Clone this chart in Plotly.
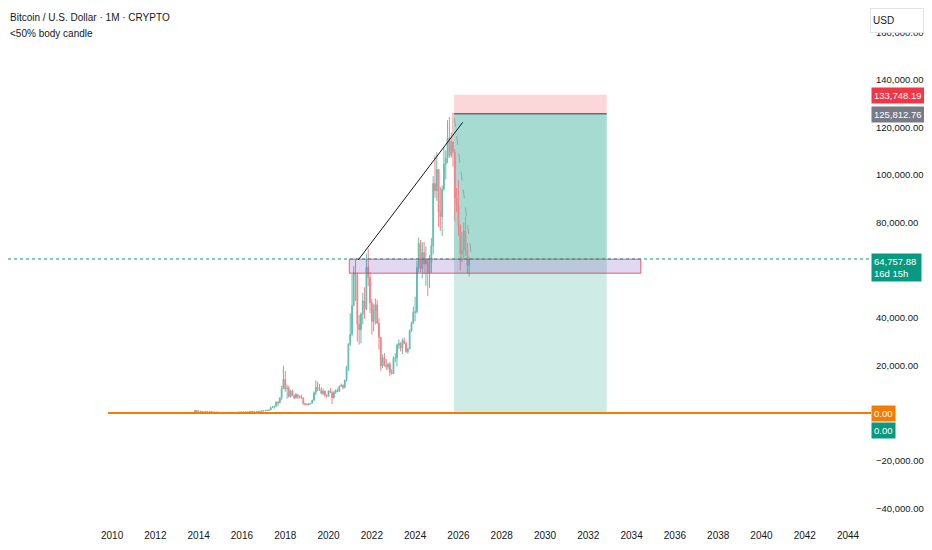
import pandas as pd
import plotly.graph_objects as go

FONT = "Liberation Sans, Arial, sans-serif"
TEXT = "#131722"

# monthly BTCUSD candles, first one is Jul 2010
first_month = "2010-07-01"

opens = [
    0.05, 0.07, 0.06, 0.06, 0.19, 0.21,  # 2010
    0.30, 0.52, 0.86, 0.78, 3.5, 8.7, 16.1, 13.4, 8.2, 5.1, 3.2, 3.0,  # 2011
    4.7, 5.5, 4.9, 4.9, 5.0, 5.2, 6.7, 9.3, 10.2, 12.4, 11.2, 12.6,  # 2012
    13.5, 20.4, 33.4, 93, 139, 129, 97, 106, 135, 133, 204, 1129,  # 2013
    732, 829, 573, 457, 448, 628, 640, 589, 481, 386, 338, 378,  # 2014
    320, 217, 254, 244, 236, 230, 263, 284, 230, 236, 314, 377,  # 2015
    430, 369, 437, 416, 448, 531, 673, 624, 575, 609, 701, 745,  # 2016
    964, 970, 1190, 1080, 1348, 2286, 2480, 2875, 4703, 4338, 6468, 10233,  # 2017
    14156, 10221, 10397, 6973, 9240, 7494, 6404, 7780, 7037, 6625, 6318, 4017,  # 2018
    3742, 3457, 3854, 4105, 5350, 8574, 10817, 10085, 9631, 8294, 9199, 7569,  # 2019
    7193, 9350, 8599, 6438, 8658, 9461, 9137, 11323, 11681, 10784, 13781, 19431,  # 2020
    28990, 33114, 45137, 58918, 57750, 37332, 35040, 41626, 47166, 43791, 61318, 57005,  # 2021
    46306, 38483, 43194, 45538, 37714, 31792, 19785, 23336, 20050, 19432, 20495, 17168,  # 2022
    16548, 23139, 23147, 28478, 29268, 27219, 30477, 29230, 25932, 26968, 34668, 37713,  # 2023
    42265, 42582, 61198, 71333, 60637, 67491, 62678, 64619, 58970, 63329, 70215, 96449,  # 2024
    93429, 102405, 84373, 82549, 94207, 104638, 107135, 115758, 108236, 114056, 109556, 90400,  # 2025
    87500, 78600, 67000, 68300, 76500, 69000, 62000,  # 2026
]
highs = [
    0.09, 0.07, 0.07, 0.20, 0.50, 0.30,
    0.52, 1.1, 0.95, 3.9, 9.0, 31.9, 16.6, 13.9, 8.6, 5.3, 3.3, 4.8,
    7.4, 6.3, 5.5, 5.3, 5.2, 6.8, 9.6, 16.0, 12.9, 12.5, 12.9, 13.8,
    20.5, 33.5, 95, 266, 139, 130, 111, 135, 145, 212, 1242, 1156,
    1022, 864, 720, 541, 629, 680, 655, 604, 491, 416, 456, 384,
    320, 266, 300, 261, 247, 268, 300, 286, 244, 336, 496, 466,
    460, 448, 439, 466, 548, 778, 680, 626, 612, 714, 753, 975,
    1150, 1200, 1290, 1350, 2763, 2980, 2916, 4736, 4975, 6470, 11430, 19870,
    17712, 11958, 11554, 9745, 9964, 7754, 8468, 7770, 7388, 7680, 6552, 4309,
    4110, 4210, 4296, 5642, 9074, 13796, 13183, 12273, 10898, 10370, 9505, 7744,
    9578, 10500, 9188, 9440, 10067, 10380, 11434, 12468, 12067, 14093, 19890, 29300,
    41950, 58350, 61780, 64900, 59000, 41300, 42300, 50500, 52900, 67000, 69000, 59100,
    47900, 45800, 48200, 47450, 39900, 31900, 24700, 25200, 22800, 21100, 21450, 18400,
    23950, 25250, 29200, 30950, 29800, 31400, 31800, 30000, 27450, 35200, 38400, 44700,
    48900, 64000, 73750, 72700, 71900, 71950, 70000, 65100, 66450, 73600, 99600, 108300,
    109600, 102500, 95000, 95700, 111900, 110500, 123100, 124400, 117900, 126200, 111000, 94600,
    97900, 79500, 76000, 80000, 82600, 71500, 65700,
]
lows = [
    0.05, 0.06, 0.06, 0.06, 0.19, 0.20,
    0.29, 0.52, 0.70, 0.78, 3.0, 8.7, 12.0, 6.7, 4.8, 2.0, 2.0, 2.8,
    4.7, 4.3, 4.7, 4.7, 4.9, 5.2, 6.6, 7.1, 10.1, 10.1, 10.8, 12.4,
    13.2, 19.5, 33.2, 50, 97, 88, 65, 102, 118, 104, 204, 455,
    732, 411, 449, 340, 417, 523, 572, 384, 373, 280, 318, 306,
    152, 209, 237, 214, 228, 221, 253, 199, 225, 236, 305, 350,
    351, 366, 402, 414, 443, 531, 480, 540, 593, 609, 690, 742,
    752, 920, 891, 1090, 1348, 2179, 1843, 2720, 2951, 4165, 5507, 10900,
    9036, 6048, 6533, 6526, 7058, 5826, 6124, 5880, 6111, 6180, 3474, 3128,
    3401, 3400, 3734, 4096, 5332, 7564, 9164, 9421, 7830, 7446, 6617, 6435,
    6871, 8492, 3850, 6202, 8118, 8975, 8977, 10994, 9882, 10374, 13244, 17600,
    28130, 32300, 44950, 47100, 30000, 28800, 29300, 37300, 39600, 43300, 53300, 42000,
    33000, 34300, 37200, 37600, 26700, 17600, 18800, 19600, 18150, 18200, 15500, 16300,
    16500, 21400, 19600, 26950, 25900, 24800, 28900, 25300, 24900, 26950, 34100, 37600,
    38550, 41900, 59100, 59200, 56550, 58400, 53500, 49100, 52600, 58900, 66800, 90500,
    89200, 78200, 76600, 74400, 93400, 98200, 105100, 107300, 107300, 103500, 80600, 84400,
    74500, 60000, 63500, 65000, 66000, 58500, 57300,
]
closes = [
    0.07, 0.06, 0.06, 0.19, 0.21, 0.30,
    0.52, 0.86, 0.78, 3.5, 8.7, 16.1, 13.4, 8.2, 5.1, 3.2, 3.0, 4.7,
    5.5, 4.9, 4.9, 5.0, 5.2, 6.7, 9.3, 10.2, 12.4, 11.2, 12.6, 13.5,
    20.4, 33.4, 93, 139, 129, 97, 106, 135, 133, 204, 1129, 732,
    829, 573, 457, 448, 628, 640, 589, 481, 386, 338, 378, 320,
    217, 254, 244, 236, 230, 263, 284, 230, 236, 314, 377, 430,
    369, 437, 416, 448, 531, 673, 624, 575, 609, 701, 745, 964,
    970, 1190, 1080, 1348, 2286, 2480, 2875, 4703, 4338, 6468, 10233, 14156,
    10221, 10397, 6973, 9240, 7494, 6404, 7780, 7037, 6625, 6318, 4017, 3742,
    3457, 3854, 4105, 5350, 8574, 10817, 10085, 9631, 8294, 9199, 7569, 7193,
    9350, 8599, 6438, 8658, 9461, 9137, 11323, 11681, 10784, 13781, 19431, 28990,
    33114, 45137, 58918, 57750, 37332, 35040, 41626, 47166, 43791, 61318, 57005, 46306,
    38483, 43194, 45538, 37714, 31792, 19785, 23336, 20050, 19432, 20495, 17168, 16548,
    23139, 23147, 28478, 29268, 27219, 30477, 29230, 25932, 26968, 34668, 37713, 42265,
    42582, 61198, 71333, 60637, 67491, 62678, 64619, 58970, 63329, 70215, 96449, 93429,
    102405, 84373, 82549, 94207, 104638, 107135, 115758, 108236, 114056, 109556, 90400, 87500,
    78600, 67000, 68300, 76500, 69000, 62000, 64757.88,
]

# drawings
last_price = 64757.88
entry_price = 125812.76
stop_price = 133748.19
target_price = 0.0
position_start, position_end = "2025-10-19", "2032-11-07"
zone_top, zone_bottom = 64700, 58800
zone_start, zone_end = "2020-12-17", "2034-06-05"
trend_x = ["2021-05-18", "2026-03-14"]
trend_y = [64400, 122200]
fade_x = ["2025-10-25", "2026-08-10"]
fade_y = [124000, 65700]
support_start = "2009-10-26"

year_ticks = list(range(2010, 2045, 2))
price_ticks = list(range(-40000, 160001, 20000))

dates = pd.date_range(first_month, periods=len(closes), freq="MS")

fig = go.Figure()

fig.add_trace(go.Candlestick(
    x=dates, open=opens, high=highs, low=lows, close=closes,
    increasing=dict(line=dict(color="#62bfae", width=1), fillcolor="#62bfae"),
    decreasing=dict(line=dict(color="#f2808a", width=1), fillcolor="#f2808a"),
    showlegend=False, hoverinfo="skip",
))

shapes = [
    # short position tool
    dict(type="rect", x0=position_start, x1=position_end, y0=entry_price, y1=stop_price,
         fillcolor="rgba(242,54,69,0.2)", line_width=0, layer="below"),
    dict(type="rect", x0=position_start, x1=position_end, y0=target_price, y1=entry_price,
         fillcolor="rgba(8,153,129,0.2)", line_width=0, layer="below"),
    dict(type="rect", x0=position_start, x1=position_end, y0=last_price, y1=entry_price,
         fillcolor="rgba(8,153,129,0.2)", line_width=0, layer="below"),
    dict(type="line", x0=position_start, x1=position_end, y0=entry_price, y1=entry_price,
         line=dict(color="#6a6d78", width=1.5)),
    # zone box
    dict(type="rect", x0=zone_start, x1=zone_end, y0=zone_bottom, y1=zone_top,
         fillcolor="rgba(103,58,183,0.2)", line=dict(color="rgba(242,54,69,0.8)", width=1)),
    # last price line
    dict(type="line", xref="paper", x0=0, x1=1, y0=last_price, y1=last_price,
         line=dict(color="#089981", width=1, dash="dot")),
    # horizontal line at 0
    dict(type="line", xref="x", x0=support_start, x1="2045-01-22", y0=0, y1=0,
         line=dict(color="#f57c00", width=2)),
    # trend line and fade line
    dict(type="line", x0=trend_x[0], x1=trend_x[1], y0=trend_y[0], y1=trend_y[1],
         line=dict(color=TEXT, width=1)),
    dict(type="line", x0=fade_x[0], x1=fade_x[1], y0=fade_y[0], y1=fade_y[1],
         line=dict(color="#a0a3ab", width=1, dash="dash")),
]

def price_tag(y, text, color, yshift=0, width=None):
    return dict(xref="paper", x=1, xanchor="left", yref="y", y=y, yshift=yshift,
                text=text, showarrow=False, bgcolor=color, borderpad=2, align="left",
                width=width, font=dict(family=FONT, size=9.5, color="white"))

annotations = [
    dict(xref="paper", yref="paper", x=0, y=1, xanchor="left", yanchor="top",
         yshift=-2, text="Bitcoin / U.S. Dollar · 1M · CRYPTO", showarrow=False,
         font=dict(family=FONT, size=10, color=TEXT)),
    dict(xref="paper", yref="paper", x=0, y=1, xanchor="left", yanchor="top",
         yshift=-18, text="<50% body candle", showarrow=False,
         font=dict(family=FONT, size=10, color=TEXT)),
    price_tag(stop_price, "133,748.19", "#f23645", yshift=-1),
    price_tag(entry_price, "125,812.76", "#787b86", yshift=-1),
    price_tag(last_price, "64,757.88<br>16d 15h", "#089981", yshift=-8, width=45),
    price_tag(0, "0.00", "#f57c00"),
    price_tag(0, "0.00", "#089981", yshift=-17),
    dict(xref="paper", yref="paper", x=1, y=1, xanchor="left", yanchor="top",
         xshift=-1, text="USD", showarrow=False, align="left",
         width=48, height=19, bgcolor="white", bordercolor="#e0e3eb", borderwidth=1,
         borderpad=2, font=dict(family=FONT, size=10, color=TEXT)),
]

fig.update_layout(
    width=932, height=550,
    margin=dict(l=0, r=69, t=0, b=36),
    paper_bgcolor="white", plot_bgcolor="white",
    font=dict(family=FONT, size=10, color=TEXT),
    shapes=shapes, annotations=annotations,
    showlegend=False,
)
fig.update_xaxes(
    type="date", range=["2005-03-12", "2045-01-22"],
    tickvals=[f"{y}-01-01" for y in year_ticks], ticktext=[str(y) for y in year_ticks],
    showgrid=False, zeroline=False, showline=False, ticks="",
    ticklabelstandoff=6, rangeslider=dict(visible=False),
)
fig.update_yaxes(
    side="right", range=[-45768, 170250],
    tickvals=price_ticks, tickformat=",.2f", tickfont=dict(size=9.5),
    showgrid=False, zeroline=False, showline=False, ticks="",
    ticklabelstandoff=4,
)

fig.write_html("out.html")
